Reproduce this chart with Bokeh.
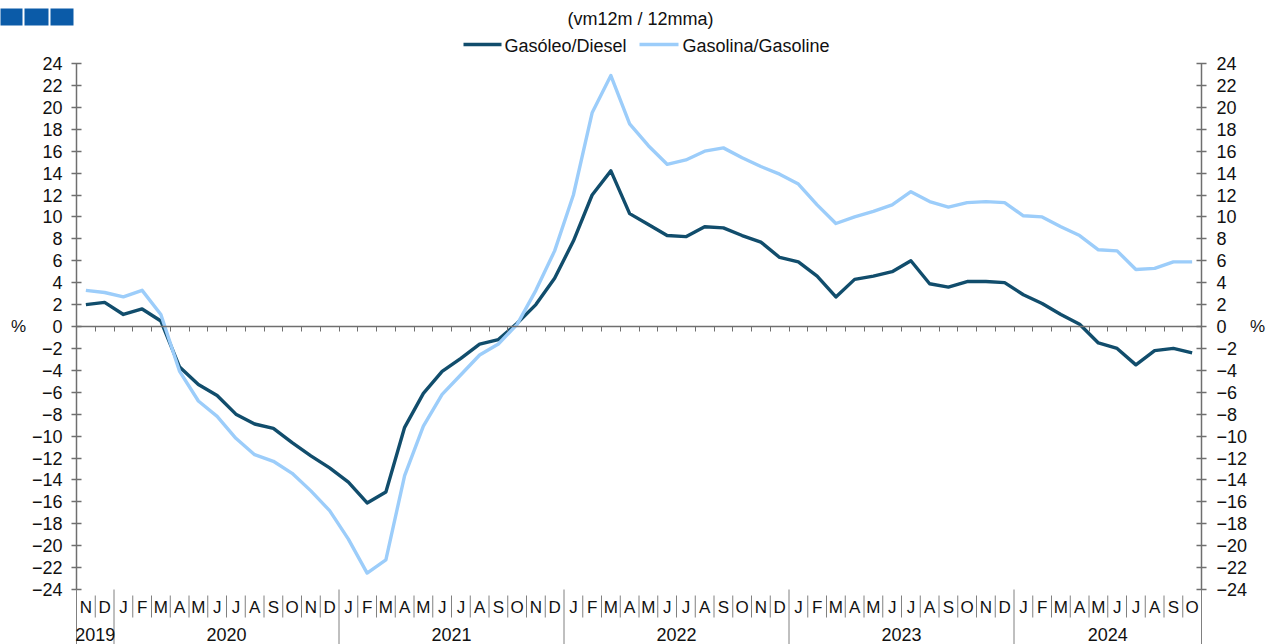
from bokeh.plotting import figure
from bokeh.models import Range1d, LinearAxis, FixedTicker
from bokeh.core.properties import value
from bokeh.embed import file_html
from bokeh.resources import INLINE

# ---------------- data ----------------
month_labels = ["N", "D"] + ["J", "F", "M", "A", "M", "J", "J", "A", "S", "O", "N", "D"] * 4 + \
               ["J", "F", "M", "A", "M", "J", "J", "A", "S", "O"]
year_labels = ["2019", "2020", "2021", "2022", "2023", "2024"]
year_months = [2, 12, 12, 12, 12, 10]

diesel = [2.0, 2.2, 1.1, 1.6, 0.5,
          -3.7, -5.3, -6.3, -8.0, -8.9, -9.3, -10.6, -11.8, -12.9, -14.2, -16.1, -15.1, -9.2, -6.1, -4.1, -2.9,
          -1.6, -1.2, 0.3, 2.0, 4.4, 7.8, 12.0, 14.2, 10.3, 9.3, 8.3, 8.2, 9.1, 9.0, 8.3, 7.7, 6.3, 5.9, 4.6, 2.7,
          4.3, 4.6, 5.0, 6.0, 3.9, 3.6, 4.1, 4.1, 4.0, 2.9, 2.1, 1.1, 0.2, -1.5, -2.0, -3.5, -2.2, -2.0, -2.4]
gasoline = [3.3, 3.1, 2.7, 3.3, 1.1,
            -4.1, -6.8, -8.2, -10.2, -11.7, -12.3, -13.4, -15.0, -16.8, -19.4, -22.5, -21.3, -13.6, -9.1, -6.2, -4.4,
            -2.6, -1.6, 0.2, 3.3, 6.9, 12.0, 19.5, 22.9, 18.5, 16.5, 14.8, 15.2, 16.0, 16.3, 15.4, 14.6, 13.9, 13.0, 11.1, 9.4,
            10.0, 10.5, 11.1, 12.3, 11.4, 10.9, 11.3, 11.4, 11.3, 10.1, 10.0, 9.1, 8.3, 7.0, 6.9, 5.2, 5.3, 5.9, 5.9]
y_ticks = list(range(-24, 25, 2))
series_names = ["Gasóleo/Diesel", "Gasolina/Gasoline"]
subtitle = "(vm12m / 12mma)"

# ---------------- layout ----------------
W, H = 1267, 644
BL, BR, BT, BB = 76, 66, 63, 55
N = len(diesel)
PXX = (W - BL - BR) / N
PXY = (H - BT - BB) / 48.0

def X(px):
    return (px - BL) / PXX

def Y(py):
    return 24 - (py - BT) / PXY

FONT_NAME = "Liberation Sans"
FONT = value(FONT_NAME)
DARK = "#114D6C"
LIGHT = "#9CCDFA"
AX = "#6F6F6F"
TXT = "#111111"

p = figure(width=W, height=H, output_backend="svg", toolbar_location=None,
           x_range=Range1d(0, N), y_range=Range1d(-24, 24),
           x_axis_type=None, y_axis_type=None,
           min_border_left=BL, min_border_right=BR, min_border_top=BT, min_border_bottom=BB)
p.outline_line_color = None
p.background_fill_color = "white"
p.border_fill_color = "white"

def yaxis(standoff):
    return LinearAxis(ticker=FixedTicker(ticks=y_ticks, minor_ticks=[]),
                      major_tick_in=5, major_tick_out=5, minor_tick_in=0, minor_tick_out=0,
                      axis_line_color=AX, axis_line_width=1.5,
                      major_tick_line_color=AX, major_tick_line_width=1.5,
                      major_label_standoff=standoff,
                      major_label_text_font=FONT_NAME, major_label_text_font_size="18px",
                      major_label_text_color=TXT)

p.add_layout(yaxis(9), "left")
p.add_layout(yaxis(10), "right")

zero_axis = LinearAxis(fixed_location=0, ticker=FixedTicker(ticks=list(range(N + 1)), minor_ticks=[]),
                       major_tick_in=0, major_tick_out=5, minor_tick_in=0, minor_tick_out=0,
                       axis_line_color=AX, axis_line_width=1.5,
                       major_tick_line_color=AX, major_tick_line_width=1,
                       major_label_text_font_size="0px", major_label_text_color=None)
p.add_layout(zero_axis, "below")

xs = [i + 0.5 for i in range(N)]
p.line(xs, diesel, line_color=DARK, line_width=3.4, line_join="round")
p.line(xs, gasoline, line_color=LIGHT, line_width=3.4, line_join="round")

# month / year category axis below the frame
year_bounds = [0]
for c in year_months:
    year_bounds.append(year_bounds[-1] + c)
month_seps = [b for b in range(1, N) if b not in year_bounds]
p.segment(x0=month_seps, y0=[Y(595)] * len(month_seps), x1=month_seps, y1=[Y(617)] * len(month_seps),
          line_color="#808080", line_width=1, level="overlay")
p.segment(x0=year_bounds, y0=[Y(589)] * len(year_bounds), x1=year_bounds, y1=[Y(650)] * len(year_bounds),
          line_color="#808080", line_width=1, level="overlay")
p.text(x=xs, y=[Y(607)] * N, text=month_labels, text_align="center", text_baseline="middle",
       text_font=FONT, text_font_size="17px", text_color=TXT, level="overlay")
year_centers = [(year_bounds[i] + year_bounds[i + 1]) / 2 for i in range(len(year_labels))]
p.text(x=year_centers, y=[Y(634)] * len(year_labels), text=year_labels, text_align="center",
       text_baseline="middle", text_font=FONT, text_font_size="18px", text_color=TXT, level="overlay")

# % unit labels
p.text(x=[X(18), X(1257)], y=[0, 0], text=["%", "%"], text_align="center", text_baseline="middle",
       text_font=FONT, text_font_size="17px", text_color=TXT, level="overlay")

# subtitle
p.text(x=[X(640)], y=[Y(18)], text=[subtitle], text_align="center", text_baseline="middle",
       text_font=FONT, text_font_size="18px", text_color=TXT, level="overlay")

# legend
p.segment(x0=[X(463), X(639)], y0=[Y(44)] * 2, x1=[X(501), X(678)], y1=[Y(44)] * 2,
          line_color=[DARK, LIGHT], line_width=3.4, level="overlay")
p.text(x=[X(504), X(682)], y=[Y(45)] * 2, text=series_names, text_align="left", text_baseline="middle",
       text_font=FONT, text_font_size="18px", text_color=TXT, level="overlay")

# corner blocks
p.quad(left=[X(0), X(24), X(50)], right=[X(22), X(48), X(73)], top=[Y(8)] * 3, bottom=[Y(25)] * 3,
       fill_color="#0B5BA8", line_color=None, level="overlay")

open("out.html", "w").write(file_html(p, INLINE))
